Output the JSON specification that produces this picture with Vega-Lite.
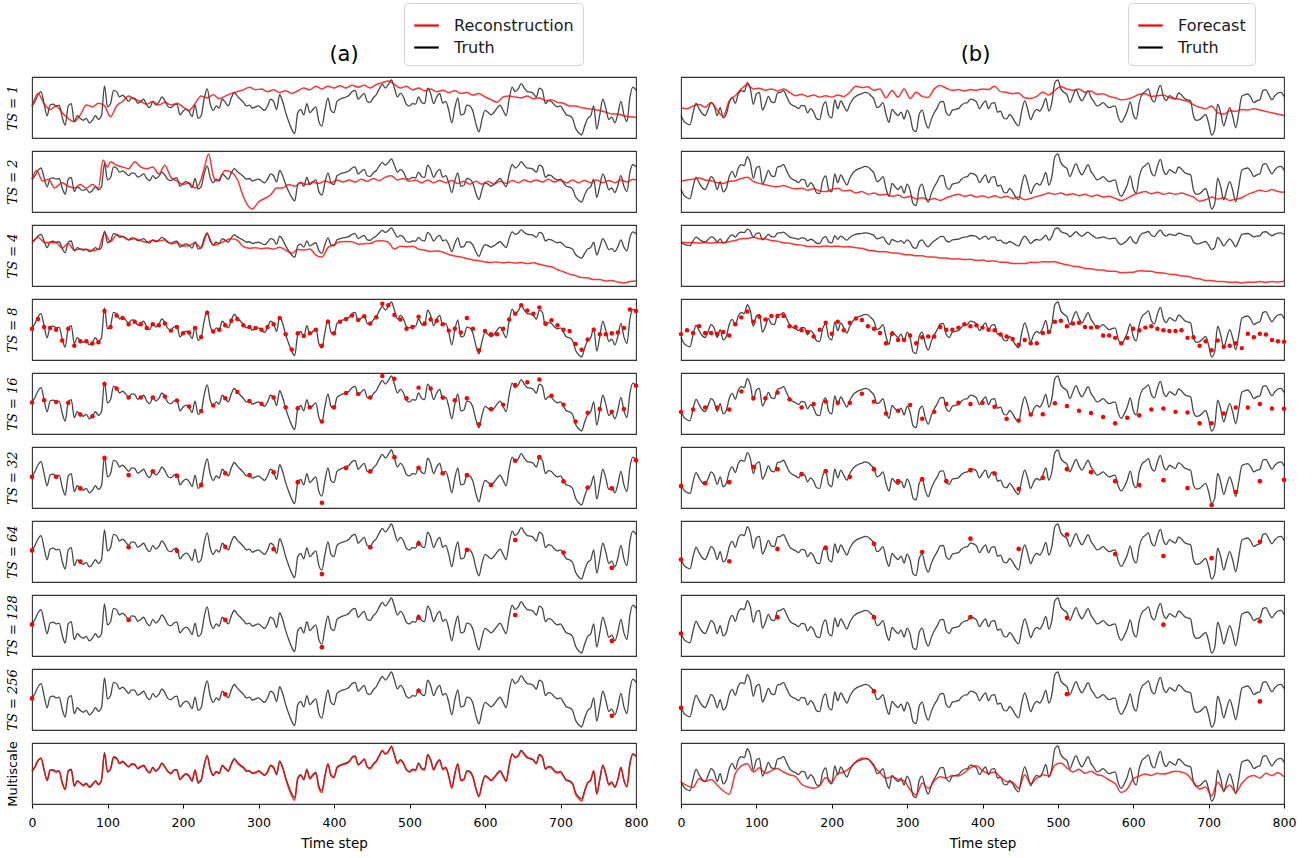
{
  "$schema": "https://vega.github.io/schema/vega-lite/v6.json",
  "background": "white",
  "padding": {"left": 5, "top": 2, "right": 5, "bottom": 5},
  "config": {
    "view": {"stroke": "#333333", "strokeWidth": 1.1},
    "font": "DejaVu Sans",
    "axisY": {"labels": false, "ticks": false, "domain": false, "grid": false, "titleFont": "DejaVu Serif", "titleFontStyle": "italic", "titleFontWeight": "normal", "titleFontSize": 13, "titlePadding": 13, "titleColor": "#000000"},
    "axisX": {"grid": false, "domain": false, "tickSize": 4, "tickColor": "#000000", "labelFlush": false, "labelFont": "DejaVu Sans", "labelFontSize": 12.5, "labelColor": "#000000", "labelPadding": 8, "titleFont": "DejaVu Sans", "titleFontSize": 13.5, "titleFontWeight": "normal", "titleColor": "#000000", "titlePadding": 8},
    "legend": {"orient": "none", "symbolType": "stroke", "symbolSize": 600, "symbolStrokeWidth": 2.2, "symbolOpacity": 1, "labelFont": "DejaVu Sans", "labelFontSize": 16, "labelColor": "#1a1a1a", "labelOffset": 14, "padding": 9, "rowPadding": 0, "strokeColor": "#d4d4d4", "cornerRadius": 4, "fillColor": "#ffffff"},
    "title": {"font": "DejaVu Sans", "fontSize": 21, "fontWeight": "normal", "color": "#000000", "offset": 12}
  },
  "datasets": {
    "ta": [{"t":0,"v":90},{"t":4,"v":100},{"t":8,"v":115},{"t":12,"v":122},{"t":16,"v":95},{"t":20,"v":68},{"t":24,"v":92},{"t":28,"v":94},{"t":32,"v":90},{"t":36,"v":92},{"t":40,"v":65},{"t":44,"v":47},{"t":48,"v":90},{"t":52,"v":95},{"t":56,"v":55},{"t":60,"v":68},{"t":64,"v":62},{"t":68,"v":58},{"t":72,"v":62},{"t":76,"v":52},{"t":80,"v":58},{"t":84,"v":68},{"t":88,"v":60},{"t":92,"v":68},{"t":96,"v":135},{"t":100,"v":88},{"t":104,"v":95},{"t":108,"v":125},{"t":112,"v":122},{"t":116,"v":110},{"t":120,"v":114},{"t":124,"v":108},{"t":128,"v":100},{"t":132,"v":108},{"t":136,"v":107},{"t":140,"v":96},{"t":144,"v":100},{"t":148,"v":105},{"t":152,"v":92},{"t":156,"v":86},{"t":160,"v":100},{"t":164,"v":92},{"t":168,"v":98},{"t":172,"v":110},{"t":176,"v":102},{"t":180,"v":89},{"t":184,"v":86},{"t":188,"v":92},{"t":192,"v":94},{"t":196,"v":70},{"t":200,"v":78},{"t":204,"v":83},{"t":208,"v":78},{"t":212,"v":66},{"t":216,"v":92},{"t":220,"v":62},{"t":224,"v":68},{"t":228,"v":105},{"t":232,"v":128},{"t":236,"v":95},{"t":240,"v":80},{"t":244,"v":90},{"t":248,"v":85},{"t":252,"v":105},{"t":256,"v":98},{"t":260,"v":90},{"t":264,"v":108},{"t":268,"v":120},{"t":272,"v":112},{"t":276,"v":105},{"t":280,"v":98},{"t":284,"v":90},{"t":288,"v":92},{"t":292,"v":85},{"t":296,"v":88},{"t":300,"v":90},{"t":304,"v":85},{"t":308,"v":80},{"t":312,"v":90},{"t":316,"v":105},{"t":320,"v":100},{"t":324,"v":82},{"t":328,"v":115},{"t":332,"v":100},{"t":336,"v":75},{"t":340,"v":55},{"t":344,"v":38},{"t":348,"v":28},{"t":352,"v":75},{"t":356,"v":82},{"t":360,"v":70},{"t":364,"v":95},{"t":368,"v":75},{"t":372,"v":82},{"t":376,"v":88},{"t":380,"v":55},{"t":384,"v":45},{"t":388,"v":80},{"t":392,"v":108},{"t":396,"v":80},{"t":400,"v":75},{"t":404,"v":100},{"t":408,"v":105},{"t":412,"v":108},{"t":416,"v":110},{"t":420,"v":114},{"t":424,"v":122},{"t":428,"v":125},{"t":432,"v":105},{"t":436,"v":112},{"t":440,"v":118},{"t":444,"v":100},{"t":448,"v":98},{"t":452,"v":108},{"t":456,"v":115},{"t":460,"v":128},{"t":464,"v":138},{"t":468,"v":130},{"t":472,"v":138},{"t":476,"v":148},{"t":480,"v":130},{"t":484,"v":110},{"t":488,"v":118},{"t":492,"v":110},{"t":496,"v":93},{"t":500,"v":90},{"t":504,"v":95},{"t":508,"v":94},{"t":512,"v":110},{"t":516,"v":98},{"t":520,"v":95},{"t":524,"v":130},{"t":528,"v":118},{"t":532,"v":95},{"t":536,"v":110},{"t":540,"v":118},{"t":544,"v":96},{"t":548,"v":100},{"t":552,"v":80},{"t":556,"v":52},{"t":560,"v":85},{"t":564,"v":108},{"t":568,"v":70},{"t":572,"v":72},{"t":576,"v":92},{"t":580,"v":90},{"t":584,"v":78},{"t":588,"v":50},{"t":592,"v":32},{"t":596,"v":60},{"t":600,"v":80},{"t":604,"v":76},{"t":608,"v":70},{"t":612,"v":76},{"t":616,"v":85},{"t":620,"v":92},{"t":624,"v":80},{"t":628,"v":68},{"t":632,"v":105},{"t":636,"v":132},{"t":640,"v":122},{"t":644,"v":128},{"t":648,"v":140},{"t":652,"v":130},{"t":656,"v":122},{"t":660,"v":121},{"t":664,"v":118},{"t":668,"v":110},{"t":672,"v":130},{"t":676,"v":125},{"t":680,"v":95},{"t":684,"v":102},{"t":688,"v":100},{"t":692,"v":92},{"t":696,"v":88},{"t":700,"v":90},{"t":704,"v":80},{"t":708,"v":70},{"t":712,"v":68},{"t":716,"v":62},{"t":720,"v":40},{"t":724,"v":30},{"t":728,"v":25},{"t":732,"v":45},{"t":736,"v":62},{"t":740,"v":68},{"t":744,"v":90},{"t":748,"v":38},{"t":752,"v":70},{"t":756,"v":105},{"t":760,"v":85},{"t":764,"v":60},{"t":768,"v":65},{"t":772,"v":52},{"t":776,"v":72},{"t":780,"v":100},{"t":784,"v":70},{"t":788,"v":55},{"t":792,"v":110},{"t":796,"v":132},{"t":800,"v":125}],
    "tb": [{"t":0,"v":72},{"t":4,"v":55},{"t":8,"v":48},{"t":12,"v":45},{"t":16,"v":80},{"t":20,"v":108},{"t":24,"v":92},{"t":28,"v":78},{"t":32,"v":72},{"t":36,"v":90},{"t":40,"v":110},{"t":44,"v":100},{"t":48,"v":72},{"t":52,"v":95},{"t":56,"v":65},{"t":60,"v":75},{"t":64,"v":110},{"t":68,"v":125},{"t":72,"v":108},{"t":76,"v":135},{"t":80,"v":145},{"t":84,"v":142},{"t":88,"v":168},{"t":92,"v":150},{"t":96,"v":105},{"t":100,"v":135},{"t":104,"v":140},{"t":108,"v":88},{"t":112,"v":105},{"t":116,"v":128},{"t":120,"v":112},{"t":124,"v":110},{"t":128,"v":138},{"t":132,"v":140},{"t":136,"v":145},{"t":140,"v":128},{"t":144,"v":110},{"t":148,"v":102},{"t":152,"v":98},{"t":156,"v":92},{"t":160,"v":102},{"t":164,"v":100},{"t":168,"v":80},{"t":172,"v":92},{"t":176,"v":82},{"t":180,"v":62},{"t":184,"v":60},{"t":188,"v":98},{"t":192,"v":112},{"t":196,"v":72},{"t":200,"v":65},{"t":204,"v":118},{"t":208,"v":92},{"t":212,"v":115},{"t":216,"v":100},{"t":220,"v":85},{"t":224,"v":105},{"t":228,"v":120},{"t":232,"v":128},{"t":236,"v":133},{"t":240,"v":136},{"t":244,"v":140},{"t":248,"v":138},{"t":252,"v":130},{"t":256,"v":120},{"t":260,"v":95},{"t":264,"v":100},{"t":268,"v":110},{"t":272,"v":75},{"t":276,"v":52},{"t":280,"v":90},{"t":284,"v":80},{"t":288,"v":72},{"t":292,"v":82},{"t":296,"v":62},{"t":300,"v":88},{"t":304,"v":70},{"t":308,"v":30},{"t":312,"v":25},{"t":316,"v":75},{"t":320,"v":88},{"t":324,"v":55},{"t":328,"v":35},{"t":332,"v":60},{"t":336,"v":80},{"t":340,"v":95},{"t":344,"v":112},{"t":348,"v":113},{"t":352,"v":80},{"t":356,"v":72},{"t":360,"v":88},{"t":364,"v":90},{"t":368,"v":92},{"t":372,"v":102},{"t":376,"v":108},{"t":380,"v":110},{"t":384,"v":120},{"t":388,"v":118},{"t":392,"v":112},{"t":396,"v":92},{"t":400,"v":105},{"t":404,"v":115},{"t":408,"v":92},{"t":412,"v":108},{"t":416,"v":110},{"t":420,"v":82},{"t":424,"v":85},{"t":428,"v":65},{"t":432,"v":62},{"t":436,"v":75},{"t":440,"v":65},{"t":444,"v":50},{"t":448,"v":42},{"t":452,"v":85},{"t":456,"v":115},{"t":460,"v":90},{"t":464,"v":60},{"t":468,"v":80},{"t":472,"v":90},{"t":476,"v":85},{"t":480,"v":100},{"t":484,"v":122},{"t":488,"v":85},{"t":492,"v":110},{"t":496,"v":168},{"t":500,"v":176},{"t":504,"v":150},{"t":508,"v":140},{"t":512,"v":133},{"t":516,"v":110},{"t":520,"v":130},{"t":524,"v":148},{"t":528,"v":128},{"t":532,"v":115},{"t":536,"v":130},{"t":540,"v":145},{"t":544,"v":125},{"t":548,"v":112},{"t":552,"v":100},{"t":556,"v":104},{"t":560,"v":110},{"t":564,"v":102},{"t":568,"v":95},{"t":572,"v":98},{"t":576,"v":100},{"t":580,"v":68},{"t":584,"v":52},{"t":588,"v":65},{"t":592,"v":85},{"t":596,"v":112},{"t":600,"v":75},{"t":604,"v":62},{"t":608,"v":110},{"t":612,"v":135},{"t":616,"v":142},{"t":620,"v":150},{"t":624,"v":122},{"t":628,"v":112},{"t":632,"v":140},{"t":636,"v":160},{"t":640,"v":128},{"t":644,"v":116},{"t":648,"v":130},{"t":652,"v":125},{"t":656,"v":120},{"t":660,"v":138},{"t":664,"v":132},{"t":668,"v":122},{"t":672,"v":118},{"t":676,"v":115},{"t":680,"v":70},{"t":684,"v":58},{"t":688,"v":60},{"t":692,"v":68},{"t":696,"v":75},{"t":700,"v":50},{"t":704,"v":15},{"t":708,"v":30},{"t":712,"v":105},{"t":716,"v":80},{"t":720,"v":42},{"t":724,"v":70},{"t":728,"v":95},{"t":732,"v":70},{"t":736,"v":36},{"t":740,"v":80},{"t":744,"v":128},{"t":748,"v":133},{"t":752,"v":135},{"t":756,"v":125},{"t":760,"v":110},{"t":764,"v":115},{"t":768,"v":118},{"t":772,"v":145},{"t":776,"v":148},{"t":780,"v":132},{"t":784,"v":118},{"t":788,"v":130},{"t":792,"v":138},{"t":796,"v":140},{"t":800,"v":128}],
    "ra1": [{"t":0,"v":89},{"t":8,"v":118},{"t":16,"v":95},{"t":24,"v":82},{"t":32,"v":90},{"t":40,"v":75},{"t":48,"v":62},{"t":56,"v":55},{"t":64,"v":70},{"t":72,"v":92},{"t":80,"v":88},{"t":88,"v":96},{"t":96,"v":90},{"t":104,"v":66},{"t":112,"v":90},{"t":120,"v":100},{"t":128,"v":112},{"t":136,"v":105},{"t":144,"v":100},{"t":152,"v":94},{"t":160,"v":100},{"t":168,"v":92},{"t":176,"v":98},{"t":184,"v":92},{"t":192,"v":96},{"t":200,"v":88},{"t":208,"v":80},{"t":216,"v":95},{"t":224,"v":112},{"t":232,"v":108},{"t":240,"v":115},{"t":248,"v":106},{"t":256,"v":112},{"t":264,"v":118},{"t":272,"v":122},{"t":280,"v":126},{"t":288,"v":132},{"t":296,"v":126},{"t":304,"v":128},{"t":312,"v":122},{"t":320,"v":126},{"t":328,"v":120},{"t":336,"v":124},{"t":344,"v":118},{"t":352,"v":124},{"t":360,"v":130},{"t":368,"v":126},{"t":376,"v":134},{"t":384,"v":128},{"t":392,"v":134},{"t":400,"v":130},{"t":408,"v":135},{"t":416,"v":130},{"t":424,"v":136},{"t":432,"v":132},{"t":440,"v":136},{"t":448,"v":130},{"t":456,"v":138},{"t":464,"v":142},{"t":472,"v":146},{"t":480,"v":138},{"t":488,"v":130},{"t":496,"v":134},{"t":504,"v":126},{"t":512,"v":130},{"t":520,"v":124},{"t":528,"v":128},{"t":536,"v":122},{"t":544,"v":125},{"t":552,"v":120},{"t":560,"v":124},{"t":568,"v":118},{"t":576,"v":120},{"t":584,"v":114},{"t":592,"v":118},{"t":600,"v":110},{"t":608,"v":104},{"t":616,"v":98},{"t":624,"v":110},{"t":632,"v":112},{"t":640,"v":110},{"t":648,"v":108},{"t":656,"v":112},{"t":664,"v":106},{"t":672,"v":108},{"t":680,"v":102},{"t":688,"v":104},{"t":696,"v":98},{"t":704,"v":96},{"t":712,"v":90},{"t":720,"v":90},{"t":728,"v":86},{"t":736,"v":84},{"t":744,"v":82},{"t":752,"v":80},{"t":760,"v":76},{"t":768,"v":72},{"t":776,"v":72},{"t":784,"v":68},{"t":792,"v":66},{"t":800,"v":64}],
    "ra2": [{"t":0,"v":90},{"t":6,"v":115},{"t":14,"v":85},{"t":22,"v":90},{"t":30,"v":65},{"t":40,"v":80},{"t":48,"v":70},{"t":56,"v":65},{"t":64,"v":75},{"t":72,"v":65},{"t":80,"v":75},{"t":88,"v":65},{"t":94,"v":145},{"t":100,"v":125},{"t":104,"v":140},{"t":112,"v":130},{"t":120,"v":125},{"t":128,"v":120},{"t":136,"v":140},{"t":144,"v":125},{"t":152,"v":120},{"t":160,"v":125},{"t":168,"v":105},{"t":176,"v":130},{"t":184,"v":95},{"t":192,"v":85},{"t":200,"v":75},{"t":208,"v":80},{"t":216,"v":65},{"t":224,"v":90},{"t":228,"v":120},{"t":234,"v":162},{"t":240,"v":100},{"t":244,"v":85},{"t":248,"v":90},{"t":256,"v":115},{"t":264,"v":110},{"t":272,"v":90},{"t":280,"v":40},{"t":288,"v":10},{"t":292,"v":5},{"t":300,"v":25},{"t":308,"v":35},{"t":316,"v":45},{"t":324,"v":65},{"t":332,"v":65},{"t":340,"v":75},{"t":348,"v":70},{"t":356,"v":80},{"t":364,"v":75},{"t":372,"v":82},{"t":380,"v":78},{"t":388,"v":85},{"t":396,"v":80},{"t":404,"v":88},{"t":412,"v":82},{"t":420,"v":88},{"t":428,"v":82},{"t":436,"v":90},{"t":444,"v":84},{"t":452,"v":92},{"t":460,"v":86},{"t":468,"v":96},{"t":476,"v":100},{"t":484,"v":88},{"t":492,"v":92},{"t":500,"v":84},{"t":508,"v":88},{"t":516,"v":80},{"t":524,"v":88},{"t":532,"v":80},{"t":540,"v":86},{"t":548,"v":80},{"t":556,"v":86},{"t":564,"v":78},{"t":572,"v":84},{"t":580,"v":76},{"t":588,"v":84},{"t":596,"v":76},{"t":604,"v":84},{"t":612,"v":76},{"t":620,"v":84},{"t":628,"v":78},{"t":636,"v":86},{"t":644,"v":80},{"t":652,"v":88},{"t":660,"v":82},{"t":668,"v":88},{"t":676,"v":82},{"t":684,"v":90},{"t":692,"v":82},{"t":700,"v":88},{"t":708,"v":80},{"t":716,"v":88},{"t":724,"v":80},{"t":732,"v":86},{"t":740,"v":80},{"t":748,"v":88},{"t":756,"v":80},{"t":764,"v":86},{"t":772,"v":80},{"t":780,"v":88},{"t":788,"v":82},{"t":796,"v":90},{"t":800,"v":88}],
    "ra4": [{"t":0,"v":88},{"t":8,"v":110},{"t":16,"v":90},{"t":24,"v":88},{"t":32,"v":88},{"t":40,"v":66},{"t":48,"v":85},{"t":56,"v":58},{"t":64,"v":62},{"t":72,"v":60},{"t":80,"v":56},{"t":88,"v":62},{"t":96,"v":128},{"t":104,"v":92},{"t":112,"v":120},{"t":120,"v":112},{"t":128,"v":100},{"t":136,"v":104},{"t":144,"v":96},{"t":152,"v":90},{"t":160,"v":98},{"t":168,"v":95},{"t":176,"v":100},{"t":184,"v":84},{"t":192,"v":88},{"t":200,"v":75},{"t":208,"v":76},{"t":216,"v":88},{"t":224,"v":66},{"t":232,"v":124},{"t":240,"v":78},{"t":248,"v":84},{"t":256,"v":96},{"t":264,"v":104},{"t":272,"v":98},{"t":280,"v":72},{"t":288,"v":66},{"t":296,"v":68},{"t":304,"v":64},{"t":312,"v":67},{"t":320,"v":62},{"t":328,"v":70},{"t":336,"v":58},{"t":344,"v":45},{"t":352,"v":60},{"t":360,"v":58},{"t":368,"v":62},{"t":376,"v":38},{"t":384,"v":30},{"t":392,"v":68},{"t":400,"v":80},{"t":408,"v":92},{"t":416,"v":93},{"t":424,"v":92},{"t":432,"v":82},{"t":440,"v":84},{"t":448,"v":85},{"t":456,"v":95},{"t":464,"v":96},{"t":472,"v":90},{"t":480,"v":62},{"t":488,"v":74},{"t":496,"v":72},{"t":504,"v":74},{"t":512,"v":62},{"t":520,"v":58},{"t":528,"v":52},{"t":536,"v":54},{"t":544,"v":50},{"t":552,"v":40},{"t":560,"v":34},{"t":568,"v":30},{"t":576,"v":24},{"t":584,"v":18},{"t":592,"v":15},{"t":600,"v":10},{"t":608,"v":8},{"t":616,"v":10},{"t":624,"v":6},{"t":632,"v":9},{"t":640,"v":5},{"t":648,"v":8},{"t":656,"v":3},{"t":664,"v":6},{"t":672,"v":0},{"t":680,"v":-6},{"t":688,"v":-10},{"t":696,"v":-22},{"t":704,"v":-30},{"t":712,"v":-40},{"t":720,"v":-46},{"t":728,"v":-54},{"t":736,"v":-55},{"t":744,"v":-62},{"t":752,"v":-62},{"t":760,"v":-68},{"t":768,"v":-66},{"t":776,"v":-72},{"t":784,"v":-76},{"t":792,"v":-70},{"t":800,"v":-68}],
    "ram": [{"t":0,"v":91},{"t":4,"v":102},{"t":8,"v":117},{"t":12,"v":120},{"t":16,"v":92},{"t":20,"v":70},{"t":24,"v":94},{"t":28,"v":92},{"t":32,"v":88},{"t":36,"v":90},{"t":40,"v":62},{"t":44,"v":48},{"t":48,"v":92},{"t":52,"v":93},{"t":56,"v":56},{"t":60,"v":66},{"t":64,"v":63},{"t":68,"v":56},{"t":72,"v":60},{"t":76,"v":54},{"t":80,"v":60},{"t":84,"v":66},{"t":88,"v":58},{"t":92,"v":70},{"t":96,"v":132},{"t":100,"v":90},{"t":104,"v":96},{"t":108,"v":122},{"t":112,"v":120},{"t":116,"v":108},{"t":120,"v":112},{"t":124,"v":106},{"t":128,"v":102},{"t":132,"v":106},{"t":136,"v":105},{"t":140,"v":98},{"t":144,"v":102},{"t":148,"v":103},{"t":152,"v":94},{"t":156,"v":88},{"t":160,"v":98},{"t":164,"v":90},{"t":168,"v":96},{"t":172,"v":108},{"t":176,"v":100},{"t":180,"v":91},{"t":184,"v":84},{"t":188,"v":94},{"t":192,"v":92},{"t":196,"v":72},{"t":200,"v":80},{"t":204,"v":85},{"t":208,"v":80},{"t":212,"v":70},{"t":216,"v":94},{"t":220,"v":66},{"t":224,"v":70},{"t":228,"v":103},{"t":232,"v":126},{"t":236,"v":96},{"t":240,"v":82},{"t":244,"v":88},{"t":248,"v":87},{"t":252,"v":103},{"t":256,"v":96},{"t":260,"v":92},{"t":264,"v":106},{"t":268,"v":118},{"t":272,"v":110},{"t":276,"v":103},{"t":280,"v":100},{"t":284,"v":92},{"t":288,"v":90},{"t":292,"v":87},{"t":296,"v":86},{"t":300,"v":92},{"t":304,"v":87},{"t":308,"v":82},{"t":312,"v":88},{"t":316,"v":103},{"t":320,"v":98},{"t":324,"v":84},{"t":328,"v":112},{"t":332,"v":98},{"t":336,"v":72},{"t":340,"v":50},{"t":344,"v":32},{"t":348,"v":22},{"t":352,"v":72},{"t":356,"v":80},{"t":360,"v":72},{"t":364,"v":92},{"t":368,"v":72},{"t":372,"v":80},{"t":376,"v":85},{"t":380,"v":50},{"t":384,"v":40},{"t":388,"v":78},{"t":392,"v":106},{"t":396,"v":82},{"t":400,"v":77},{"t":404,"v":98},{"t":408,"v":103},{"t":412,"v":106},{"t":416,"v":108},{"t":420,"v":112},{"t":424,"v":124},{"t":428,"v":127},{"t":432,"v":107},{"t":436,"v":110},{"t":440,"v":120},{"t":444,"v":102},{"t":448,"v":96},{"t":452,"v":106},{"t":456,"v":113},{"t":460,"v":126},{"t":464,"v":140},{"t":468,"v":132},{"t":472,"v":136},{"t":476,"v":150},{"t":480,"v":128},{"t":484,"v":108},{"t":488,"v":116},{"t":492,"v":108},{"t":496,"v":95},{"t":500,"v":88},{"t":504,"v":93},{"t":508,"v":92},{"t":512,"v":108},{"t":516,"v":96},{"t":520,"v":93},{"t":524,"v":128},{"t":528,"v":116},{"t":532,"v":93},{"t":536,"v":108},{"t":540,"v":116},{"t":544,"v":94},{"t":548,"v":98},{"t":552,"v":78},{"t":556,"v":50},{"t":560,"v":83},{"t":564,"v":106},{"t":568,"v":68},{"t":572,"v":70},{"t":576,"v":90},{"t":580,"v":88},{"t":584,"v":76},{"t":588,"v":48},{"t":592,"v":30},{"t":596,"v":58},{"t":600,"v":78},{"t":604,"v":74},{"t":608,"v":68},{"t":612,"v":74},{"t":616,"v":83},{"t":620,"v":90},{"t":624,"v":78},{"t":628,"v":66},{"t":632,"v":103},{"t":636,"v":130},{"t":640,"v":124},{"t":644,"v":126},{"t":648,"v":138},{"t":652,"v":132},{"t":656,"v":124},{"t":660,"v":119},{"t":664,"v":116},{"t":668,"v":108},{"t":672,"v":128},{"t":676,"v":123},{"t":680,"v":97},{"t":684,"v":100},{"t":688,"v":98},{"t":692,"v":90},{"t":696,"v":86},{"t":700,"v":88},{"t":704,"v":78},{"t":708,"v":68},{"t":712,"v":66},{"t":716,"v":60},{"t":720,"v":36},{"t":724,"v":26},{"t":728,"v":20},{"t":732,"v":42},{"t":736,"v":64},{"t":740,"v":70},{"t":744,"v":92},{"t":748,"v":36},{"t":752,"v":72},{"t":756,"v":103},{"t":760,"v":83},{"t":764,"v":58},{"t":768,"v":63},{"t":772,"v":54},{"t":776,"v":70},{"t":780,"v":98},{"t":784,"v":68},{"t":788,"v":53},{"t":792,"v":108},{"t":796,"v":130},{"t":800,"v":127}],
    "da8": [{"t":0,"v":88},{"t":8,"v":110},{"t":16,"v":92},{"t":24,"v":90},{"t":32,"v":86},{"t":40,"v":62},{"t":48,"v":88},{"t":56,"v":50},{"t":64,"v":60},{"t":72,"v":60},{"t":80,"v":55},{"t":88,"v":58},{"t":96,"v":128},{"t":104,"v":92},{"t":112,"v":118},{"t":120,"v":112},{"t":128,"v":98},{"t":136,"v":104},{"t":144,"v":98},{"t":152,"v":90},{"t":160,"v":98},{"t":168,"v":96},{"t":176,"v":100},{"t":184,"v":84},{"t":192,"v":92},{"t":200,"v":78},{"t":208,"v":80},{"t":216,"v":90},{"t":224,"v":70},{"t":232,"v":124},{"t":240,"v":82},{"t":248,"v":86},{"t":256,"v":96},{"t":264,"v":106},{"t":272,"v":110},{"t":280,"v":96},{"t":288,"v":92},{"t":296,"v":90},{"t":304,"v":86},{"t":312,"v":92},{"t":320,"v":98},{"t":328,"v":112},{"t":336,"v":76},{"t":344,"v":42},{"t":352,"v":78},{"t":360,"v":72},{"t":368,"v":78},{"t":376,"v":86},{"t":384,"v":50},{"t":392,"v":104},{"t":400,"v":78},{"t":408,"v":104},{"t":416,"v":110},{"t":424,"v":118},{"t":432,"v":108},{"t":440,"v":116},{"t":448,"v":100},{"t":456,"v":114},{"t":464,"v":144},{"t":472,"v":141},{"t":480,"v":119},{"t":488,"v":109},{"t":496,"v":88},{"t":504,"v":92},{"t":512,"v":115},{"t":520,"v":100},{"t":528,"v":109},{"t":536,"v":106},{"t":544,"v":98},{"t":552,"v":84},{"t":560,"v":88},{"t":568,"v":80},{"t":576,"v":112},{"t":584,"v":88},{"t":592,"v":40},{"t":600,"v":83},{"t":608,"v":76},{"t":616,"v":76},{"t":624,"v":88},{"t":632,"v":109},{"t":640,"v":122},{"t":648,"v":141},{"t":656,"v":129},{"t":664,"v":122},{"t":672,"v":136},{"t":680,"v":100},{"t":688,"v":107},{"t":696,"v":96},{"t":704,"v":86},{"t":712,"v":83},{"t":720,"v":54},{"t":728,"v":41},{"t":736,"v":64},{"t":744,"v":86},{"t":752,"v":76},{"t":760,"v":76},{"t":768,"v":78},{"t":776,"v":80},{"t":784,"v":90},{"t":792,"v":131},{"t":800,"v":128}],
    "da16": [{"t":0,"v":89},{"t":16,"v":94},{"t":32,"v":90},{"t":48,"v":88},{"t":64,"v":62},{"t":80,"v":58},{"t":96,"v":130},{"t":112,"v":120},{"t":128,"v":100},{"t":144,"v":100},{"t":160,"v":100},{"t":176,"v":102},{"t":192,"v":93},{"t":208,"v":80},{"t":224,"v":70},{"t":240,"v":82},{"t":256,"v":98},{"t":272,"v":112},{"t":288,"v":92},{"t":304,"v":86},{"t":320,"v":100},{"t":336,"v":78},{"t":352,"v":76},{"t":368,"v":78},{"t":384,"v":46},{"t":400,"v":78},{"t":416,"v":110},{"t":432,"v":108},{"t":448,"v":100},{"t":464,"v":148},{"t":480,"v":142},{"t":496,"v":98},{"t":512,"v":122},{"t":528,"v":120},{"t":544,"v":100},{"t":560,"v":94},{"t":576,"v":98},{"t":592,"v":40},{"t":608,"v":74},{"t":624,"v":84},{"t":640,"v":128},{"t":656,"v":134},{"t":672,"v":140},{"t":688,"v":104},{"t":704,"v":84},{"t":720,"v":46},{"t":736,"v":66},{"t":752,"v":74},{"t":768,"v":68},{"t":784,"v":74},{"t":800,"v":126}],
    "da32": [{"t":0,"v":88},{"t":32,"v":88},{"t":64,"v":62},{"t":96,"v":130},{"t":128,"v":92},{"t":160,"v":100},{"t":192,"v":90},{"t":224,"v":70},{"t":256,"v":96},{"t":288,"v":92},{"t":320,"v":98},{"t":352,"v":76},{"t":384,"v":30},{"t":416,"v":108},{"t":448,"v":100},{"t":480,"v":132},{"t":512,"v":108},{"t":544,"v":96},{"t":576,"v":92},{"t":608,"v":70},{"t":640,"v":124},{"t":672,"v":132},{"t":704,"v":78},{"t":736,"v":64},{"t":768,"v":62},{"t":800,"v":125}],
    "da64": [{"t":0,"v":89},{"t":64,"v":64},{"t":128,"v":96},{"t":192,"v":88},{"t":256,"v":97},{"t":320,"v":92},{"t":384,"v":36},{"t":448,"v":96},{"t":512,"v":104},{"t":576,"v":90},{"t":640,"v":112},{"t":704,"v":84},{"t":768,"v":50}],
    "da128": [{"t":0,"v":89},{"t":128,"v":99},{"t":256,"v":99},{"t":384,"v":38},{"t":512,"v":104},{"t":640,"v":110},{"t":768,"v":52}],
    "da256": [{"t":0,"v":89},{"t":256,"v":98},{"t":512,"v":106},{"t":768,"v":50}],
    "rb1": [{"t":0,"v":95},{"t":8,"v":92},{"t":16,"v":100},{"t":24,"v":104},{"t":32,"v":96},{"t":40,"v":110},{"t":48,"v":88},{"t":56,"v":70},{"t":64,"v":115},{"t":72,"v":130},{"t":80,"v":150},{"t":88,"v":162},{"t":96,"v":150},{"t":104,"v":152},{"t":112,"v":146},{"t":120,"v":150},{"t":128,"v":144},{"t":136,"v":150},{"t":144,"v":140},{"t":152,"v":130},{"t":160,"v":134},{"t":168,"v":128},{"t":176,"v":132},{"t":184,"v":126},{"t":192,"v":130},{"t":200,"v":126},{"t":208,"v":132},{"t":216,"v":128},{"t":224,"v":140},{"t":232,"v":158},{"t":240,"v":154},{"t":248,"v":156},{"t":256,"v":146},{"t":264,"v":150},{"t":272,"v":124},{"t":280,"v":145},{"t":288,"v":126},{"t":296,"v":150},{"t":304,"v":122},{"t":312,"v":140},{"t":320,"v":128},{"t":328,"v":125},{"t":336,"v":150},{"t":344,"v":160},{"t":352,"v":152},{"t":360,"v":146},{"t":368,"v":148},{"t":376,"v":144},{"t":384,"v":148},{"t":392,"v":146},{"t":400,"v":150},{"t":408,"v":148},{"t":416,"v":158},{"t":424,"v":142},{"t":432,"v":140},{"t":440,"v":136},{"t":448,"v":138},{"t":456,"v":124},{"t":464,"v":122},{"t":472,"v":128},{"t":480,"v":140},{"t":488,"v":132},{"t":496,"v":146},{"t":504,"v":156},{"t":512,"v":150},{"t":520,"v":146},{"t":528,"v":150},{"t":536,"v":140},{"t":544,"v":144},{"t":552,"v":134},{"t":560,"v":136},{"t":568,"v":128},{"t":576,"v":124},{"t":584,"v":118},{"t":592,"v":120},{"t":600,"v":126},{"t":608,"v":134},{"t":616,"v":136},{"t":624,"v":128},{"t":632,"v":130},{"t":640,"v":132},{"t":648,"v":124},{"t":656,"v":122},{"t":664,"v":118},{"t":672,"v":114},{"t":680,"v":104},{"t":688,"v":96},{"t":696,"v":92},{"t":704,"v":100},{"t":712,"v":80},{"t":720,"v":76},{"t":728,"v":86},{"t":736,"v":84},{"t":744,"v":90},{"t":752,"v":88},{"t":760,"v":92},{"t":768,"v":88},{"t":776,"v":84},{"t":784,"v":80},{"t":792,"v":76},{"t":800,"v":72}],
    "rb2": [{"t":0,"v":96},{"t":8,"v":100},{"t":16,"v":102},{"t":24,"v":106},{"t":32,"v":100},{"t":40,"v":98},{"t":48,"v":92},{"t":56,"v":90},{"t":64,"v":96},{"t":72,"v":98},{"t":80,"v":104},{"t":88,"v":108},{"t":96,"v":96},{"t":104,"v":90},{"t":112,"v":86},{"t":120,"v":82},{"t":128,"v":80},{"t":136,"v":84},{"t":144,"v":78},{"t":152,"v":74},{"t":160,"v":76},{"t":168,"v":70},{"t":176,"v":74},{"t":184,"v":68},{"t":192,"v":66},{"t":200,"v":72},{"t":208,"v":76},{"t":216,"v":68},{"t":224,"v":70},{"t":232,"v":62},{"t":240,"v":66},{"t":248,"v":58},{"t":256,"v":62},{"t":264,"v":56},{"t":272,"v":58},{"t":280,"v":52},{"t":288,"v":56},{"t":296,"v":48},{"t":304,"v":52},{"t":312,"v":44},{"t":320,"v":48},{"t":328,"v":42},{"t":336,"v":46},{"t":344,"v":40},{"t":352,"v":48},{"t":360,"v":54},{"t":368,"v":58},{"t":376,"v":52},{"t":384,"v":56},{"t":392,"v":50},{"t":400,"v":54},{"t":408,"v":48},{"t":416,"v":54},{"t":424,"v":48},{"t":432,"v":52},{"t":440,"v":46},{"t":448,"v":50},{"t":456,"v":42},{"t":464,"v":46},{"t":472,"v":52},{"t":480,"v":56},{"t":488,"v":62},{"t":496,"v":58},{"t":504,"v":62},{"t":512,"v":56},{"t":520,"v":60},{"t":528,"v":54},{"t":536,"v":58},{"t":544,"v":52},{"t":552,"v":56},{"t":560,"v":50},{"t":568,"v":52},{"t":576,"v":46},{"t":584,"v":40},{"t":592,"v":46},{"t":600,"v":56},{"t":608,"v":62},{"t":616,"v":66},{"t":624,"v":60},{"t":632,"v":64},{"t":640,"v":58},{"t":648,"v":62},{"t":656,"v":58},{"t":664,"v":62},{"t":672,"v":56},{"t":680,"v":50},{"t":688,"v":38},{"t":696,"v":42},{"t":704,"v":50},{"t":712,"v":44},{"t":720,"v":48},{"t":728,"v":40},{"t":736,"v":44},{"t":744,"v":48},{"t":752,"v":58},{"t":760,"v":64},{"t":768,"v":70},{"t":776,"v":66},{"t":784,"v":72},{"t":792,"v":66},{"t":800,"v":64}],
    "rb4": [{"t":0,"v":72},{"t":8,"v":66},{"t":16,"v":68},{"t":24,"v":62},{"t":32,"v":68},{"t":40,"v":62},{"t":48,"v":68},{"t":56,"v":66},{"t":64,"v":74},{"t":72,"v":82},{"t":80,"v":96},{"t":88,"v":98},{"t":96,"v":106},{"t":104,"v":96},{"t":112,"v":94},{"t":120,"v":82},{"t":128,"v":78},{"t":136,"v":66},{"t":144,"v":62},{"t":152,"v":52},{"t":160,"v":48},{"t":168,"v":38},{"t":176,"v":38},{"t":184,"v":36},{"t":192,"v":42},{"t":200,"v":38},{"t":208,"v":40},{"t":216,"v":34},{"t":224,"v":36},{"t":232,"v":28},{"t":240,"v":24},{"t":248,"v":10},{"t":256,"v":6},{"t":264,"v":-2},{"t":272,"v":-2},{"t":280,"v":-10},{"t":288,"v":-12},{"t":296,"v":-22},{"t":304,"v":-24},{"t":312,"v":-32},{"t":320,"v":-32},{"t":328,"v":-40},{"t":336,"v":-40},{"t":344,"v":-48},{"t":352,"v":-48},{"t":360,"v":-56},{"t":368,"v":-54},{"t":376,"v":-60},{"t":384,"v":-58},{"t":392,"v":-66},{"t":400,"v":-64},{"t":408,"v":-72},{"t":416,"v":-70},{"t":424,"v":-80},{"t":432,"v":-80},{"t":440,"v":-90},{"t":448,"v":-90},{"t":456,"v":-90},{"t":464,"v":-80},{"t":472,"v":-82},{"t":480,"v":-76},{"t":488,"v":-78},{"t":496,"v":-76},{"t":504,"v":-90},{"t":512,"v":-98},{"t":520,"v":-110},{"t":528,"v":-114},{"t":536,"v":-126},{"t":544,"v":-128},{"t":552,"v":-138},{"t":560,"v":-138},{"t":568,"v":-148},{"t":576,"v":-148},{"t":584,"v":-158},{"t":592,"v":-156},{"t":600,"v":-154},{"t":608,"v":-144},{"t":616,"v":-146},{"t":624,"v":-148},{"t":632,"v":-158},{"t":640,"v":-160},{"t":648,"v":-170},{"t":656,"v":-172},{"t":664,"v":-182},{"t":672,"v":-184},{"t":680,"v":-198},{"t":688,"v":-204},{"t":696,"v":-216},{"t":704,"v":-216},{"t":712,"v":-224},{"t":720,"v":-224},{"t":728,"v":-230},{"t":736,"v":-228},{"t":744,"v":-235},{"t":752,"v":-228},{"t":760,"v":-230},{"t":768,"v":-224},{"t":776,"v":-230},{"t":784,"v":-224},{"t":792,"v":-227},{"t":800,"v":-222}],
    "rbm": [{"t":0,"v":70},{"t":8,"v":60},{"t":16,"v":55},{"t":24,"v":80},{"t":32,"v":72},{"t":40,"v":78},{"t":48,"v":62},{"t":56,"v":45},{"t":64,"v":35},{"t":72,"v":95},{"t":80,"v":118},{"t":88,"v":124},{"t":96,"v":100},{"t":104,"v":112},{"t":112,"v":96},{"t":120,"v":104},{"t":128,"v":110},{"t":136,"v":100},{"t":144,"v":92},{"t":152,"v":86},{"t":160,"v":64},{"t":168,"v":56},{"t":176,"v":52},{"t":184,"v":60},{"t":192,"v":84},{"t":200,"v":70},{"t":208,"v":96},{"t":216,"v":100},{"t":224,"v":112},{"t":232,"v":130},{"t":240,"v":140},{"t":248,"v":138},{"t":256,"v":116},{"t":264,"v":98},{"t":272,"v":82},{"t":280,"v":86},{"t":288,"v":78},{"t":296,"v":74},{"t":304,"v":48},{"t":312,"v":32},{"t":320,"v":68},{"t":328,"v":52},{"t":336,"v":74},{"t":344,"v":86},{"t":352,"v":82},{"t":360,"v":90},{"t":368,"v":88},{"t":376,"v":98},{"t":384,"v":112},{"t":392,"v":118},{"t":400,"v":104},{"t":408,"v":96},{"t":416,"v":100},{"t":424,"v":84},{"t":432,"v":72},{"t":440,"v":70},{"t":448,"v":52},{"t":456,"v":92},{"t":464,"v":66},{"t":472,"v":82},{"t":480,"v":92},{"t":488,"v":88},{"t":496,"v":120},{"t":504,"v":126},{"t":512,"v":112},{"t":520,"v":100},{"t":528,"v":108},{"t":536,"v":96},{"t":544,"v":102},{"t":552,"v":92},{"t":560,"v":88},{"t":568,"v":76},{"t":576,"v":66},{"t":584,"v":40},{"t":592,"v":50},{"t":600,"v":80},{"t":608,"v":88},{"t":616,"v":94},{"t":624,"v":90},{"t":632,"v":96},{"t":640,"v":94},{"t":648,"v":98},{"t":656,"v":102},{"t":664,"v":100},{"t":672,"v":92},{"t":680,"v":70},{"t":688,"v":50},{"t":696,"v":56},{"t":704,"v":30},{"t":712,"v":70},{"t":720,"v":48},{"t":728,"v":62},{"t":736,"v":40},{"t":744,"v":66},{"t":752,"v":84},{"t":760,"v":90},{"t":768,"v":82},{"t":776,"v":96},{"t":784,"v":90},{"t":792,"v":98},{"t":800,"v":86}],
    "db8": [{"t":0,"v":82},{"t":8,"v":93},{"t":16,"v":85},{"t":24,"v":105},{"t":32,"v":85},{"t":40,"v":85},{"t":48,"v":83},{"t":56,"v":88},{"t":64,"v":78},{"t":72,"v":111},{"t":80,"v":131},{"t":88,"v":148},{"t":96,"v":118},{"t":104,"v":133},{"t":112,"v":125},{"t":120,"v":135},{"t":128,"v":135},{"t":136,"v":135},{"t":144,"v":105},{"t":152,"v":103},{"t":160,"v":93},{"t":168,"v":88},{"t":176,"v":75},{"t":184,"v":95},{"t":192,"v":115},{"t":200,"v":83},{"t":208,"v":118},{"t":216,"v":93},{"t":224,"v":115},{"t":232,"v":128},{"t":240,"v":123},{"t":248,"v":105},{"t":256,"v":98},{"t":264,"v":85},{"t":272,"v":55},{"t":280,"v":83},{"t":288,"v":65},{"t":296,"v":65},{"t":304,"v":78},{"t":312,"v":55},{"t":320,"v":73},{"t":328,"v":75},{"t":336,"v":75},{"t":344,"v":103},{"t":352,"v":95},{"t":360,"v":95},{"t":368,"v":101},{"t":376,"v":111},{"t":384,"v":105},{"t":392,"v":108},{"t":400,"v":101},{"t":408,"v":95},{"t":416,"v":93},{"t":424,"v":81},{"t":432,"v":75},{"t":440,"v":68},{"t":448,"v":51},{"t":456,"v":65},{"t":464,"v":55},{"t":472,"v":55},{"t":480,"v":85},{"t":488,"v":88},{"t":496,"v":118},{"t":504,"v":121},{"t":512,"v":105},{"t":520,"v":113},{"t":528,"v":115},{"t":536,"v":103},{"t":544,"v":101},{"t":552,"v":103},{"t":560,"v":78},{"t":568,"v":78},{"t":576,"v":71},{"t":584,"v":55},{"t":592,"v":71},{"t":600,"v":98},{"t":608,"v":93},{"t":616,"v":101},{"t":624,"v":105},{"t":632,"v":98},{"t":640,"v":93},{"t":648,"v":91},{"t":656,"v":91},{"t":664,"v":93},{"t":672,"v":71},{"t":680,"v":73},{"t":688,"v":48},{"t":696,"v":61},{"t":704,"v":35},{"t":712,"v":63},{"t":720,"v":45},{"t":728,"v":48},{"t":736,"v":55},{"t":744,"v":41},{"t":752,"v":83},{"t":760,"v":73},{"t":768,"v":83},{"t":776,"v":81},{"t":784,"v":65},{"t":792,"v":61},{"t":800,"v":60}],
    "db16": [{"t":0,"v":71},{"t":16,"v":78},{"t":32,"v":84},{"t":48,"v":84},{"t":64,"v":78},{"t":80,"v":131},{"t":96,"v":111},{"t":112,"v":111},{"t":128,"v":128},{"t":144,"v":108},{"t":160,"v":84},{"t":176,"v":94},{"t":192,"v":101},{"t":208,"v":98},{"t":224,"v":98},{"t":240,"v":124},{"t":256,"v":101},{"t":272,"v":66},{"t":288,"v":74},{"t":304,"v":91},{"t":320,"v":51},{"t":336,"v":71},{"t":352,"v":94},{"t":368,"v":98},{"t":384,"v":94},{"t":400,"v":98},{"t":416,"v":86},{"t":432,"v":51},{"t":448,"v":46},{"t":464,"v":63},{"t":480,"v":64},{"t":496,"v":96},{"t":512,"v":88},{"t":528,"v":74},{"t":544,"v":68},{"t":560,"v":56},{"t":576,"v":38},{"t":592,"v":54},{"t":608,"v":61},{"t":624,"v":78},{"t":640,"v":81},{"t":656,"v":71},{"t":672,"v":69},{"t":688,"v":38},{"t":704,"v":38},{"t":720,"v":66},{"t":736,"v":84},{"t":752,"v":84},{"t":768,"v":94},{"t":784,"v":81},{"t":800,"v":80}],
    "db32": [{"t":0,"v":67},{"t":32,"v":76},{"t":64,"v":79},{"t":96,"v":125},{"t":128,"v":118},{"t":160,"v":103},{"t":192,"v":112},{"t":224,"v":95},{"t":256,"v":118},{"t":288,"v":82},{"t":320,"v":88},{"t":352,"v":82},{"t":384,"v":115},{"t":416,"v":105},{"t":448,"v":58},{"t":480,"v":92},{"t":512,"v":118},{"t":544,"v":109},{"t":576,"v":82},{"t":608,"v":70},{"t":640,"v":85},{"t":672,"v":61},{"t":704,"v":10},{"t":736,"v":49},{"t":768,"v":82},{"t":800,"v":86}],
    "db64": [{"t":0,"v":72},{"t":64,"v":67},{"t":128,"v":103},{"t":192,"v":106},{"t":256,"v":118},{"t":320,"v":94},{"t":384,"v":133},{"t":448,"v":103},{"t":512,"v":145},{"t":576,"v":88},{"t":640,"v":82},{"t":704,"v":76},{"t":768,"v":124}],
    "db128": [{"t":0,"v":72},{"t":128,"v":120},{"t":256,"v":120},{"t":384,"v":120},{"t":512,"v":118},{"t":640,"v":98},{"t":768,"v":108}],
    "db256": [{"t":0,"v":71},{"t":256,"v":120},{"t":512,"v":111},{"t":768,"v":90}]
  },
  "spacing": 27,
  "resolve": {"scale": {"color": "independent", "x": "independent", "y": "independent"}, "legend": {"color": "independent"}},
  "hconcat": [
    {
      "bounds": "flush",
      "spacing": 13,
      "resolve": {"scale": {"x": "shared", "y": "independent", "color": "shared"}, "axis": {"x": "independent", "y": "independent"}},
      "vconcat": [
        {"width": 604, "height": 61, "title": {"text": "(a)", "dx": 10},
         "encoding": {"x": {"field": "t", "type": "quantitative", "scale": {"domain": [0, 800], "nice": false, "zero": false}, "axis": null},
                      "y": {"field": "v", "type": "quantitative", "scale": {"zero": false, "nice": false, "padding": 3}, "axis": {"title": "TS = 1"}}},
         "layer": [
          {"data": {"name": "ta"}, "mark": {"type": "line", "strokeWidth": 1.3, "opacity": 0.72, "interpolate": "monotone"},
           "encoding": {"color": {"datum": "Truth", "type": "nominal", "scale": {"domain": ["Reconstruction", "Truth"], "range": ["#ff0000", "#000000"]}, "legend": {"title": null, "legendX": 372, "legendY": -74}}}},
          {"data": {"name": "ra1"}, "mark": {"type": "line", "strokeWidth": 1.5, "opacity": 0.8, "interpolate": "monotone"}, "encoding": {"color": {"datum": "Reconstruction", "type": "nominal"}}}
         ]},
        {"width": 604, "height": 61,
         "encoding": {"x": {"field": "t", "type": "quantitative", "scale": {"domain": [0, 800], "nice": false, "zero": false}, "axis": null},
                      "y": {"field": "v", "type": "quantitative", "scale": {"zero": false, "nice": false, "padding": 3}, "axis": {"title": "TS = 2"}}},
         "layer": [
          {"data": {"name": "ta"}, "mark": {"type": "line", "strokeWidth": 1.3, "opacity": 0.72, "interpolate": "monotone"}, "encoding": {"color": {"datum": "Truth", "type": "nominal"}}},
          {"data": {"name": "ra2"}, "mark": {"type": "line", "strokeWidth": 1.5, "opacity": 0.8, "interpolate": "monotone"}, "encoding": {"color": {"datum": "Reconstruction", "type": "nominal"}}}
         ]},
        {"width": 604, "height": 61,
         "encoding": {"x": {"field": "t", "type": "quantitative", "scale": {"domain": [0, 800], "nice": false, "zero": false}, "axis": null},
                      "y": {"field": "v", "type": "quantitative", "scale": {"zero": false, "nice": false, "padding": 3}, "axis": {"title": "TS = 4"}}},
         "layer": [
          {"data": {"name": "ta"}, "mark": {"type": "line", "strokeWidth": 1.3, "opacity": 0.72, "interpolate": "monotone"}, "encoding": {"color": {"datum": "Truth", "type": "nominal"}}},
          {"data": {"name": "ra4"}, "mark": {"type": "line", "strokeWidth": 1.5, "opacity": 0.8, "interpolate": "monotone"}, "encoding": {"color": {"datum": "Reconstruction", "type": "nominal"}}}
         ]},
        {"width": 604, "height": 61,
         "encoding": {"x": {"field": "t", "type": "quantitative", "scale": {"domain": [0, 800], "nice": false, "zero": false}, "axis": null},
                      "y": {"field": "v", "type": "quantitative", "scale": {"zero": false, "nice": false, "padding": 3}, "axis": {"title": "TS = 8"}}},
         "layer": [
          {"data": {"name": "ta"}, "mark": {"type": "line", "strokeWidth": 1.3, "opacity": 0.72, "interpolate": "monotone"}, "encoding": {"color": {"datum": "Truth", "type": "nominal"}}},
          {"data": {"name": "da8"}, "mark": {"type": "circle", "size": 20, "color": "#ff0000", "opacity": 1}}
         ]},
        {"width": 604, "height": 61,
         "encoding": {"x": {"field": "t", "type": "quantitative", "scale": {"domain": [0, 800], "nice": false, "zero": false}, "axis": null},
                      "y": {"field": "v", "type": "quantitative", "scale": {"zero": false, "nice": false, "padding": 3}, "axis": {"title": "TS = 16"}}},
         "layer": [
          {"data": {"name": "ta"}, "mark": {"type": "line", "strokeWidth": 1.3, "opacity": 0.72, "interpolate": "monotone"}, "encoding": {"color": {"datum": "Truth", "type": "nominal"}}},
          {"data": {"name": "da16"}, "mark": {"type": "circle", "size": 20, "color": "#ff0000", "opacity": 1}}
         ]},
        {"width": 604, "height": 61,
         "encoding": {"x": {"field": "t", "type": "quantitative", "scale": {"domain": [0, 800], "nice": false, "zero": false}, "axis": null},
                      "y": {"field": "v", "type": "quantitative", "scale": {"zero": false, "nice": false, "padding": 3}, "axis": {"title": "TS = 32"}}},
         "layer": [
          {"data": {"name": "ta"}, "mark": {"type": "line", "strokeWidth": 1.3, "opacity": 0.72, "interpolate": "monotone"}, "encoding": {"color": {"datum": "Truth", "type": "nominal"}}},
          {"data": {"name": "da32"}, "mark": {"type": "circle", "size": 22, "color": "#ff0000", "opacity": 1}}
         ]},
        {"width": 604, "height": 61,
         "encoding": {"x": {"field": "t", "type": "quantitative", "scale": {"domain": [0, 800], "nice": false, "zero": false}, "axis": null},
                      "y": {"field": "v", "type": "quantitative", "scale": {"zero": false, "nice": false, "padding": 3}, "axis": {"title": "TS = 64"}}},
         "layer": [
          {"data": {"name": "ta"}, "mark": {"type": "line", "strokeWidth": 1.3, "opacity": 0.72, "interpolate": "monotone"}, "encoding": {"color": {"datum": "Truth", "type": "nominal"}}},
          {"data": {"name": "da64"}, "mark": {"type": "circle", "size": 22, "color": "#ff0000", "opacity": 1}}
         ]},
        {"width": 604, "height": 61,
         "encoding": {"x": {"field": "t", "type": "quantitative", "scale": {"domain": [0, 800], "nice": false, "zero": false}, "axis": null},
                      "y": {"field": "v", "type": "quantitative", "scale": {"zero": false, "nice": false, "padding": 3}, "axis": {"title": "TS = 128"}}},
         "layer": [
          {"data": {"name": "ta"}, "mark": {"type": "line", "strokeWidth": 1.3, "opacity": 0.72, "interpolate": "monotone"}, "encoding": {"color": {"datum": "Truth", "type": "nominal"}}},
          {"data": {"name": "da128"}, "mark": {"type": "circle", "size": 22, "color": "#ff0000", "opacity": 1}}
         ]},
        {"width": 604, "height": 61,
         "encoding": {"x": {"field": "t", "type": "quantitative", "scale": {"domain": [0, 800], "nice": false, "zero": false}, "axis": null},
                      "y": {"field": "v", "type": "quantitative", "scale": {"zero": false, "nice": false, "padding": 3}, "axis": {"title": "TS = 256"}}},
         "layer": [
          {"data": {"name": "ta"}, "mark": {"type": "line", "strokeWidth": 1.3, "opacity": 0.72, "interpolate": "monotone"}, "encoding": {"color": {"datum": "Truth", "type": "nominal"}}},
          {"data": {"name": "da256"}, "mark": {"type": "circle", "size": 22, "color": "#ff0000", "opacity": 1}}
         ]},
        {"width": 604, "height": 61,
         "encoding": {"x": {"field": "t", "type": "quantitative", "scale": {"domain": [0, 800], "nice": false, "zero": false}, "axis": {"title": "Time step", "values": [0, 100, 200, 300, 400, 500, 600, 700, 800]}},
                      "y": {"field": "v", "type": "quantitative", "scale": {"zero": false, "nice": false, "padding": 3}, "axis": {"title": "Multiscale", "titleFont": "DejaVu Sans", "titleFontStyle": "normal"}}},
         "layer": [
          {"data": {"name": "ta"}, "mark": {"type": "line", "strokeWidth": 1.3, "opacity": 0.72, "interpolate": "monotone"}, "encoding": {"color": {"datum": "Truth", "type": "nominal"}}},
          {"data": {"name": "ram"}, "mark": {"type": "line", "strokeWidth": 1.5, "opacity": 0.8, "interpolate": "monotone"}, "encoding": {"color": {"datum": "Reconstruction", "type": "nominal"}}}
         ]}
      ]
    },
    {
      "bounds": "flush",
      "spacing": 13,
      "resolve": {"scale": {"x": "shared", "y": "independent", "color": "shared"}, "axis": {"x": "independent", "y": "independent"}},
      "vconcat": [
        {"width": 603, "height": 61, "title": {"text": "(b)", "dx": -7},
         "encoding": {"x": {"field": "t", "type": "quantitative", "scale": {"domain": [0, 800], "nice": false, "zero": false}, "axis": null},
                      "y": {"field": "v", "type": "quantitative", "scale": {"zero": false, "nice": false, "padding": 3}, "axis": null}},
         "layer": [
          {"data": {"name": "tb"}, "mark": {"type": "line", "strokeWidth": 1.3, "opacity": 0.72, "interpolate": "monotone"},
           "encoding": {"color": {"datum": "Truth", "type": "nominal", "scale": {"domain": ["Forecast", "Truth"], "range": ["#ff0000", "#000000"]}, "legend": {"title": null, "legendX": 447, "legendY": -74}}}},
          {"data": {"name": "rb1"}, "mark": {"type": "line", "strokeWidth": 1.5, "opacity": 0.8, "interpolate": "monotone"}, "encoding": {"color": {"datum": "Forecast", "type": "nominal"}}}
         ]},
        {"width": 603, "height": 61,
         "encoding": {"x": {"field": "t", "type": "quantitative", "scale": {"domain": [0, 800], "nice": false, "zero": false}, "axis": null},
                      "y": {"field": "v", "type": "quantitative", "scale": {"zero": false, "nice": false, "padding": 3}, "axis": null}},
         "layer": [
          {"data": {"name": "tb"}, "mark": {"type": "line", "strokeWidth": 1.3, "opacity": 0.72, "interpolate": "monotone"}, "encoding": {"color": {"datum": "Truth", "type": "nominal"}}},
          {"data": {"name": "rb2"}, "mark": {"type": "line", "strokeWidth": 1.5, "opacity": 0.8, "interpolate": "monotone"}, "encoding": {"color": {"datum": "Forecast", "type": "nominal"}}}
         ]},
        {"width": 603, "height": 61,
         "encoding": {"x": {"field": "t", "type": "quantitative", "scale": {"domain": [0, 800], "nice": false, "zero": false}, "axis": null},
                      "y": {"field": "v", "type": "quantitative", "scale": {"zero": false, "nice": false, "padding": 3}, "axis": null}},
         "layer": [
          {"data": {"name": "tb"}, "mark": {"type": "line", "strokeWidth": 1.3, "opacity": 0.72, "interpolate": "monotone"}, "encoding": {"color": {"datum": "Truth", "type": "nominal"}}},
          {"data": {"name": "rb4"}, "mark": {"type": "line", "strokeWidth": 1.5, "opacity": 0.8, "interpolate": "monotone"}, "encoding": {"color": {"datum": "Forecast", "type": "nominal"}}}
         ]},
        {"width": 603, "height": 61,
         "encoding": {"x": {"field": "t", "type": "quantitative", "scale": {"domain": [0, 800], "nice": false, "zero": false}, "axis": null},
                      "y": {"field": "v", "type": "quantitative", "scale": {"zero": false, "nice": false, "padding": 3}, "axis": null}},
         "layer": [
          {"data": {"name": "tb"}, "mark": {"type": "line", "strokeWidth": 1.3, "opacity": 0.72, "interpolate": "monotone"}, "encoding": {"color": {"datum": "Truth", "type": "nominal"}}},
          {"data": {"name": "db8"}, "mark": {"type": "circle", "size": 20, "color": "#ff0000", "opacity": 1}}
         ]},
        {"width": 603, "height": 61,
         "encoding": {"x": {"field": "t", "type": "quantitative", "scale": {"domain": [0, 800], "nice": false, "zero": false}, "axis": null},
                      "y": {"field": "v", "type": "quantitative", "scale": {"zero": false, "nice": false, "padding": 3}, "axis": null}},
         "layer": [
          {"data": {"name": "tb"}, "mark": {"type": "line", "strokeWidth": 1.3, "opacity": 0.72, "interpolate": "monotone"}, "encoding": {"color": {"datum": "Truth", "type": "nominal"}}},
          {"data": {"name": "db16"}, "mark": {"type": "circle", "size": 20, "color": "#ff0000", "opacity": 1}}
         ]},
        {"width": 603, "height": 61,
         "encoding": {"x": {"field": "t", "type": "quantitative", "scale": {"domain": [0, 800], "nice": false, "zero": false}, "axis": null},
                      "y": {"field": "v", "type": "quantitative", "scale": {"zero": false, "nice": false, "padding": 3}, "axis": null}},
         "layer": [
          {"data": {"name": "tb"}, "mark": {"type": "line", "strokeWidth": 1.3, "opacity": 0.72, "interpolate": "monotone"}, "encoding": {"color": {"datum": "Truth", "type": "nominal"}}},
          {"data": {"name": "db32"}, "mark": {"type": "circle", "size": 22, "color": "#ff0000", "opacity": 1}}
         ]},
        {"width": 603, "height": 61,
         "encoding": {"x": {"field": "t", "type": "quantitative", "scale": {"domain": [0, 800], "nice": false, "zero": false}, "axis": null},
                      "y": {"field": "v", "type": "quantitative", "scale": {"zero": false, "nice": false, "padding": 3}, "axis": null}},
         "layer": [
          {"data": {"name": "tb"}, "mark": {"type": "line", "strokeWidth": 1.3, "opacity": 0.72, "interpolate": "monotone"}, "encoding": {"color": {"datum": "Truth", "type": "nominal"}}},
          {"data": {"name": "db64"}, "mark": {"type": "circle", "size": 22, "color": "#ff0000", "opacity": 1}}
         ]},
        {"width": 603, "height": 61,
         "encoding": {"x": {"field": "t", "type": "quantitative", "scale": {"domain": [0, 800], "nice": false, "zero": false}, "axis": null},
                      "y": {"field": "v", "type": "quantitative", "scale": {"zero": false, "nice": false, "padding": 3}, "axis": null}},
         "layer": [
          {"data": {"name": "tb"}, "mark": {"type": "line", "strokeWidth": 1.3, "opacity": 0.72, "interpolate": "monotone"}, "encoding": {"color": {"datum": "Truth", "type": "nominal"}}},
          {"data": {"name": "db128"}, "mark": {"type": "circle", "size": 22, "color": "#ff0000", "opacity": 1}}
         ]},
        {"width": 603, "height": 61,
         "encoding": {"x": {"field": "t", "type": "quantitative", "scale": {"domain": [0, 800], "nice": false, "zero": false}, "axis": null},
                      "y": {"field": "v", "type": "quantitative", "scale": {"zero": false, "nice": false, "padding": 3}, "axis": null}},
         "layer": [
          {"data": {"name": "tb"}, "mark": {"type": "line", "strokeWidth": 1.3, "opacity": 0.72, "interpolate": "monotone"}, "encoding": {"color": {"datum": "Truth", "type": "nominal"}}},
          {"data": {"name": "db256"}, "mark": {"type": "circle", "size": 22, "color": "#ff0000", "opacity": 1}}
         ]},
        {"width": 603, "height": 61,
         "encoding": {"x": {"field": "t", "type": "quantitative", "scale": {"domain": [0, 800], "nice": false, "zero": false}, "axis": {"title": "Time step", "values": [0, 100, 200, 300, 400, 500, 600, 700, 800]}},
                      "y": {"field": "v", "type": "quantitative", "scale": {"zero": false, "nice": false, "padding": 3}, "axis": null}},
         "layer": [
          {"data": {"name": "tb"}, "mark": {"type": "line", "strokeWidth": 1.3, "opacity": 0.72, "interpolate": "monotone"}, "encoding": {"color": {"datum": "Truth", "type": "nominal"}}},
          {"data": {"name": "rbm"}, "mark": {"type": "line", "strokeWidth": 1.5, "opacity": 0.8, "interpolate": "monotone"}, "encoding": {"color": {"datum": "Forecast", "type": "nominal"}}}
         ]}
      ]
    }
  ]
}
